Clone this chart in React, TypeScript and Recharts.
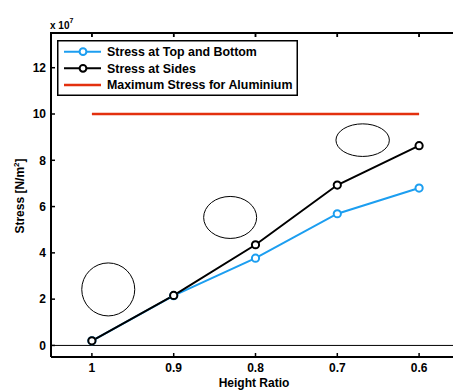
import { LineChart, Line, XAxis, YAxis, ReferenceLine, ReferenceDot } from "recharts"

const ratios = [1, 0.9, 0.8, 0.7, 0.6]
const topBottom = [0.2e7, 2.15e7, 3.77e7, 5.69e7, 6.8e7]
const sides = [0.2e7, 2.16e7, 4.35e7, 6.93e7, 8.63e7]
const maxStress = [10e7, 10e7, 10e7, 10e7, 10e7]

const xTicks = [1, 0.9, 0.8, 0.7, 0.6]
const yTicks = [0, 2e7, 4e7, 6e7, 8e7, 10e7, 12e7]
const xDomain = [0.55, 1.05]
const yDomain = [-0.5e7, 13.5e7]

// cross-section sketches drawn on the plot (centre in data units)
const shapeX = [0.98, 0.831, 0.669]
const shapeY = [2.42e7, 5.53e7, 8.87e7]
const shapeR = [[26.5, 26.5], [26.5, 21], [26.7, 16.3]]

const seriesNames = ["Stress at Top and Bottom", "Stress at Sides", "Maximum Stress for Aluminium"]

const BLUE = "#1c9ef0"
const BLACK = "#000000"
const RED = "#e3300e"
const FONT = "'Liberation Sans', Arial, Helvetica, sans-serif"

// plot box in page pixels
const PLOT = { left: 51, top: 33, right: 460, bottom: 357 }

const data = ratios.map((r, i) => ({
 ratio: r,
 topBottom: topBottom[i],
 sides: sides[i],
 maxStress: maxStress[i],
}))

const BottomTick = (props: any) => {
 const { x, y, payload } = props
 return (
  <g>
   <line x1={x} x2={x} y1={y} y2={y - 4} stroke="#000" strokeWidth={1.5} />
   <text x={x} y={y + 15} textAnchor="middle" fontFamily={FONT} fontWeight="bold" fontSize={12} fill="#000">
    {payload.value}
   </text>
  </g>
 )
}

const LeftTick = (props: any) => {
 const { x, y, payload } = props
 return (
  <g>
   <line x1={x} x2={x + 4} y1={y} y2={y} stroke="#000" strokeWidth={1.5} />
   <text x={x - 5} y={y + 4.3} textAnchor="end" fontFamily={FONT} fontWeight="bold" fontSize={12} fill="#000">
    {payload.value / 1e7}
   </text>
  </g>
 )
}

const Marker = (color: string) => (props: any) => {
 const { cx, cy, index } = props
 return <circle key={index} cx={cx} cy={cy} r={3.6} fill="#fff" stroke={color} strokeWidth={2} />
}

const TopTickMark = (p: any) => (
 <line x1={p.cx} x2={p.cx} y1={p.cy} y2={p.cy + 4} stroke="#000" strokeWidth={1.5} />
)

// x position of a ratio on the (reversed) axis, for the frame's top ticks
const topTickX = (t: number) =>
 PLOT.left + ((xDomain[1] - t) / (xDomain[1] - xDomain[0])) * (PLOT.right - PLOT.left)

export default function App() {
 const colors = [BLUE, BLACK, RED]
 return (
  <div style={{ position: "relative", width: 453, height: 390, overflow: "hidden", background: "#fff" }}>
   <style>{"body{margin:0}"}</style>
   <LineChart
    width={PLOT.right + 2}
    height={390}
    data={data}
    margin={{ top: PLOT.top, right: 2, bottom: 0, left: 0 }}
   >
    <XAxis
     dataKey="ratio"
     type="number"
     domain={xDomain}
     reversed
     ticks={xTicks}
     height={390 - PLOT.bottom}
     tickSize={0}
     tickMargin={0}
     tick={<BottomTick />}
     axisLine={{ stroke: "#000", strokeWidth: 2 }}
     interval={0}
    />
    <YAxis
     type="number"
     domain={yDomain}
     ticks={yTicks}
     width={PLOT.left}
     tickSize={0}
     tickMargin={0}
     tick={<LeftTick />}
     axisLine={{ stroke: "#000", strokeWidth: 2 }}
     interval={0}
     allowDataOverflow
    />
    <ReferenceLine y={0} stroke="#000" strokeWidth={1} ifOverflow="visible" />
    {shapeX.map((sx, i) => (
     <ReferenceDot
      key={i}
      x={sx}
      y={shapeY[i]}
      r={1}
      ifOverflow="visible"
      shape={(p: any) => (
       <ellipse cx={p.cx} cy={p.cy} rx={shapeR[i][0]} ry={shapeR[i][1]} fill="none" stroke="#000" strokeWidth={1} />
      )}
     />
    ))}
    <Line
     dataKey="maxStress"
     name={seriesNames[2]}
     stroke={RED}
     strokeWidth={2.5}
     dot={false}
     isAnimationActive={false}
    />
    <Line
     dataKey="topBottom"
     name={seriesNames[0]}
     stroke={BLUE}
     strokeWidth={2}
     dot={Marker(BLUE)}
     isAnimationActive={false}
    />
    <Line
     dataKey="sides"
     name={seriesNames[1]}
     stroke={BLACK}
     strokeWidth={2}
     dot={Marker(BLACK)}
     isAnimationActive={false}
    />
    <ReferenceLine y={yDomain[1]} stroke="#000" strokeWidth={2} ifOverflow="visible" />
    {xTicks.map((t) => (
     <ReferenceDot key={"tt" + t} x={t} y={yDomain[1]} r={1} ifOverflow="visible" shape={TopTickMark} />
    ))}
   </LineChart>
   <svg width={453} height={390} style={{ position: "absolute", left: 0, top: 0, pointerEvents: "none" }}>
    {/* top edge of the axes box */}
    <line x1={PLOT.left - 1} x2={453} y1={PLOT.top} y2={PLOT.top} stroke="#000" strokeWidth={2} />
    {xTicks.map((t) => (
     <line
      key={t}
      x1={topTickX(t)}
      x2={topTickX(t)}
      y1={PLOT.top}
      y2={PLOT.top + 4}
      stroke="#000"
      strokeWidth={1.5}
     />
    ))}
    <text x={50} y={29} fontFamily={FONT} fontWeight="bold" fontSize={10} fill="#000">
     x 10<tspan fontSize={7} dy={-6}>7</tspan>
    </text>
    <rect x={57.75} y={40.75} width={239.5} height={54.5} fill="#fff" stroke="#000" strokeWidth={1.5} />
    {seriesNames.map((name, i) => {
     const y = 51.7 + i * 16.65
     return (
      <g key={name}>
       <line x1={64} x2={101} y1={y} y2={y} stroke={colors[i]} strokeWidth={i === 2 ? 2.5 : 2} />
       {i < 2 && <circle cx={83} cy={y} r={3.4} fill="#fff" stroke={colors[i]} strokeWidth={2} />}
       <text x={107} y={y + 4.4} fontFamily={FONT} fontWeight="bold" fontSize={12.4} fill="#000">
        {name}
       </text>
      </g>
     )
    })}
    <text x={254} y={387} textAnchor="middle" fontFamily={FONT} fontWeight="bold" fontSize={12} fill="#000">
     Height Ratio
    </text>
    <text
     transform="translate(24 196) rotate(-90)"
     textAnchor="middle"
     fontFamily={FONT}
     fontWeight="bold"
     fontSize={12}
     fill="#000"
    >
     Stress [N/m<tspan fontSize={8} dy={-5}>2</tspan>
     <tspan dy={5}>]</tspan>
    </text>
   </svg>
  </div>
 )
}
